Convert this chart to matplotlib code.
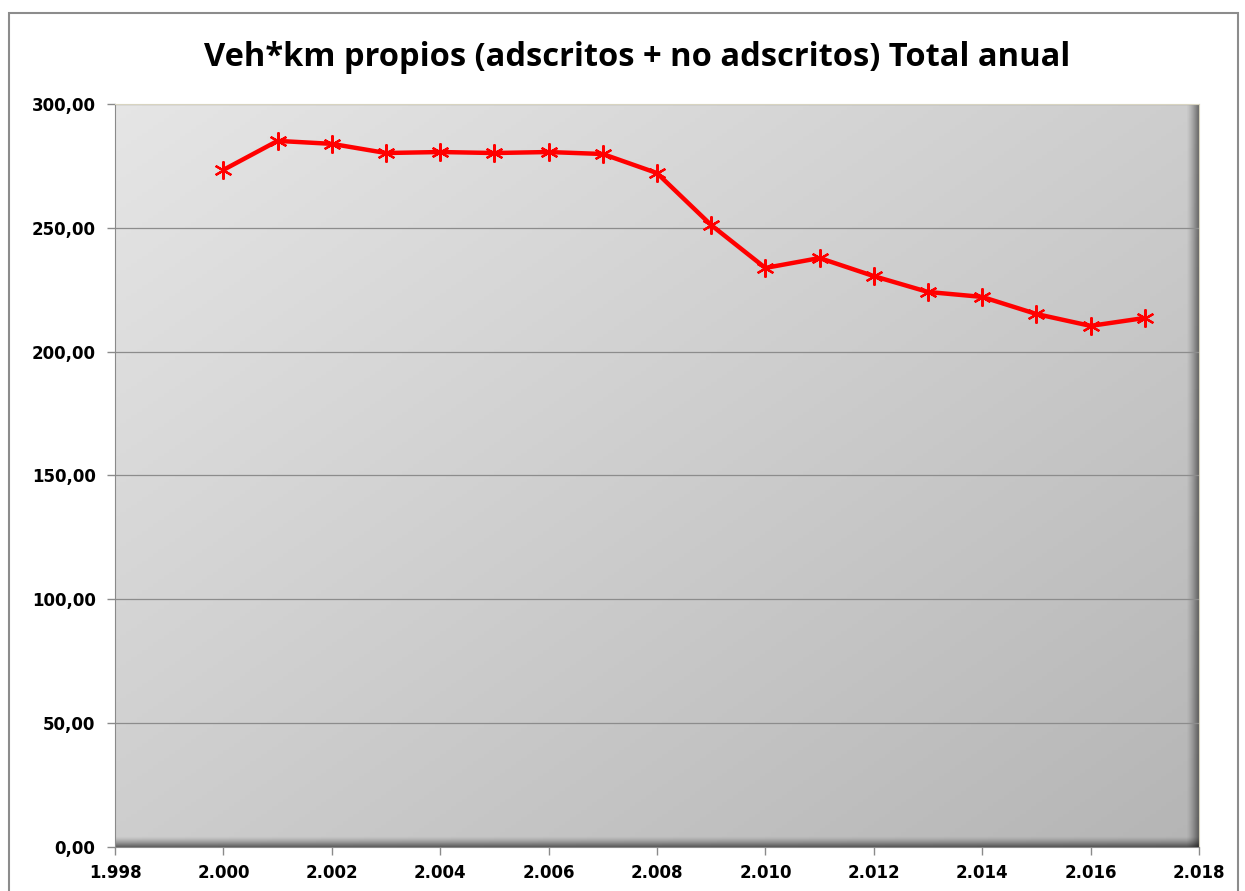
import matplotlib
matplotlib.use("Agg")
import matplotlib.pyplot as plt
import numpy as np

plt.rcParams['font.family'] = ['DejaVu Sans']

years = [2000, 2001, 2002, 2003, 2004, 2005, 2006, 2007, 2008,
         2009, 2010, 2011, 2012, 2013, 2014, 2015, 2016, 2017]
vehkm = [273.4, 285.1, 283.9, 280.2, 280.6, 280.2, 280.6, 279.8, 272.1,
         251.1, 233.8, 237.8, 230.5, 224.1, 222.1, 215.2, 210.4, 213.6]
xticks = list(range(1998, 2019, 2))
yticks = [0, 50, 100, 150, 200, 250, 300]
title = "Veh*km propios (adscritos + no adscritos) Total anual"

fig = plt.figure(figsize=(12.45, 8.91), dpi=100)
fig.patch.set_facecolor("white")

# outer chart frame
frame = plt.Rectangle((0.007, -0.05), 0.987, 1.035, transform=fig.transFigure,
                      fill=False, edgecolor="#8c8c8c", linewidth=1.5)
fig.add_artist(frame)

ax = fig.add_axes([0.0924, 0.0494, 0.8706, 0.8339])

# diagonal gradient background, light top-left -> darker bottom-right
n = 200
gx, gy = np.meshgrid(np.linspace(0, 1, n), np.linspace(0, 1, n))
t = (gx + gy) / 2
val = 0.90 - 0.19 * t
bg = np.dstack([val, val, val])
ax.imshow(bg, extent=[0, 1, 0, 1], transform=ax.transAxes,
          aspect="auto", zorder=0, origin="upper")

# dark shadow bands along bottom and right edge
sh = np.linspace(0, 1, 30) ** 1.4
bottom = np.zeros((30, 1, 4))
bottom[:, 0, 3] = 0.55 * sh
ax.imshow(bottom, extent=[0, 1, 0, 0.014], transform=ax.transAxes,
          aspect="auto", zorder=0.5, origin="upper")
right = np.zeros((1, 30, 4))
right[0, :, 3] = 0.55 * sh
ax.imshow(right, extent=[0.988, 1, 0, 1], transform=ax.transAxes,
          aspect="auto", zorder=0.5, origin="upper")

for y in yticks[1:]:
    ax.axhline(y, color="#8c8c8c", linewidth=0.9, zorder=1)

ax.plot(years, vehkm, color="#ff0000", linewidth=3.2, marker=(6, 2, 0),
        markersize=13, markeredgewidth=1.6, zorder=3)

ax.set_xlim(1998, 2018)
ax.set_ylim(0, 300)
ax.set_xticks(xticks)
ax.set_yticks(yticks)
ax.set_xticklabels(["{:d}.{:03d}".format(x // 1000, x % 1000) for x in xticks])
ax.set_yticklabels(["{:d},00".format(y) for y in yticks])
ax.tick_params(axis="both", direction="out", length=6, color="#8a8a8a",
               labelsize=12, width=1)
for lab in ax.get_xticklabels() + ax.get_yticklabels():
    lab.set_fontweight("bold")
ax.tick_params(axis="x", pad=6)
ax.tick_params(axis="y", pad=8)

for side in ["top", "right"]:
    ax.spines[side].set_color("#d8d4c0")
for side in ["left", "bottom"]:
    ax.spines[side].set_color("#8a8a8a")

fig.text(0.512, 0.935, title, ha="center", va="center", fontsize=23.5,
         fontweight="bold", family=["Open Sans", "DejaVu Sans"])

fig.savefig("out.png", dpi=100)
